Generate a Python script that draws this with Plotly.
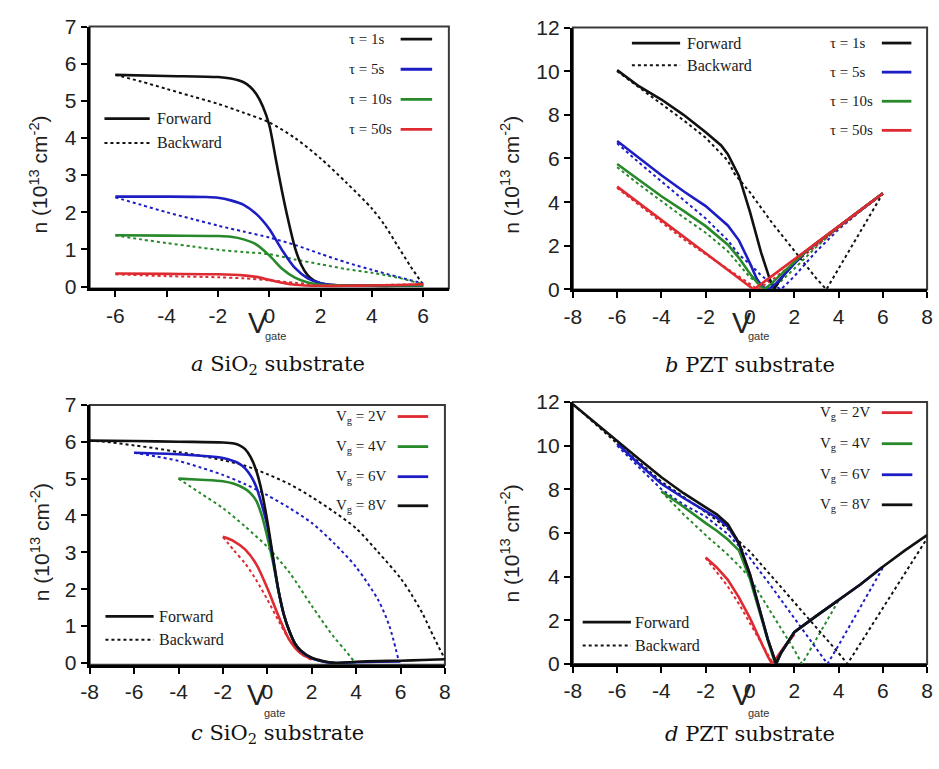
import plotly.graph_objects as go

W, H = 939, 769

# ---------------- data ----------------
# panel a (SiO2, tau)
A_X_1S_F = [-6, -4, -2, -1.5, -1, -0.75, -0.5, -0.25, 0, 0.25, 0.5, 0.75, 1.0, 1.25, 1.5, 1.75, 2.0, 2.5, 3, 4, 5, 6]
A_N_1S_F = [5.70, 5.67, 5.64, 5.6, 5.5, 5.38, 5.18, 4.85, 4.35, 3.45, 2.55, 1.75, 1.05, 0.58, 0.3, 0.16, 0.09, 0.04, 0.03, 0.02, 0.02, 0.03]
A_X_1S_B = [-6, -5, -4, -3, -2, -1, 0, 1, 2, 3, 4, 4.5, 5, 5.5, 6]
A_N_1S_B = [5.70, 5.52, 5.32, 5.12, 4.92, 4.68, 4.42, 4.0, 3.45, 2.8, 2.1, 1.65, 1.1, 0.55, 0.05]
A_X_5S_F = [-6, -4, -2.5, -2, -1.5, -1, -0.5, 0, 0.5, 1, 1.5, 2, 2.5, 3, 4, 5, 6]
A_N_5S_F = [2.42, 2.42, 2.41, 2.39, 2.32, 2.2, 1.95, 1.55, 0.98, 0.5, 0.22, 0.09, 0.04, 0.03, 0.03, 0.03, 0.03]
A_X_5S_B = [-6, -5, -4, -3, -2, -1, 0, 1, 2, 3, 4, 5, 6]
A_N_5S_B = [2.4, 2.2, 2.0, 1.82, 1.64, 1.48, 1.32, 1.12, 0.88, 0.65, 0.45, 0.26, 0.08]
A_X_10S_F = [-6, -4, -2, -1.5, -1, -0.5, 0, 0.5, 1, 1.5, 2, 3, 4, 5, 6]
A_N_10S_F = [1.38, 1.37, 1.36, 1.34, 1.27, 1.13, 0.84, 0.48, 0.24, 0.11, 0.05, 0.03, 0.03, 0.03, 0.03]
A_X_10S_B = [-6, -5, -4, -3, -2, -1, 0, 1, 2, 3, 4, 5, 6]
A_N_10S_B = [1.38, 1.27, 1.17, 1.08, 0.99, 0.93, 0.87, 0.73, 0.6, 0.47, 0.37, 0.24, 0.06]
A_X_50S_F = [-6, -4, -2, -1, -0.5, 0, 0.5, 1, 2, 3, 4, 5, 6]
A_N_50S_F = [0.35, 0.34, 0.33, 0.3, 0.26, 0.18, 0.1, 0.05, 0.02, 0.02, 0.03, 0.04, 0.06]
A_X_50S_B = [-6, -4, -2, -1, 0, 1, 2, 3, 4, 5, 6]
A_N_50S_B = [0.33, 0.28, 0.25, 0.22, 0.17, 0.1, 0.05, 0.04, 0.04, 0.05, 0.06]

# panel b (PZT, tau)
B_X_1S_F = [-6, -5, -4, -3, -2, -1.3, -1, -0.5, 0, 0.5, 0.9, 1.1, 1.3, 1.6, 2, 2.5, 3, 4, 5, 6]
B_N_1S_F = [10.05, 9.3, 8.7, 8.0, 7.2, 6.6, 6.2, 5.2, 3.55, 1.7, 0.45, 0.03, 0.35, 0.75, 1.2, 1.72, 2.12, 2.88, 3.64, 4.4]
B_X_1S_B = [-6, -5, -4, -3, -2, -1, -0.7, 0, 1, 2, 3, 3.45, 4, 5, 6]
B_N_1S_B = [10.0, 9.25, 8.5, 7.75, 6.95, 5.9, 5.3, 4.45, 3.05, 1.75, 0.5, 0.0, 0.95, 2.65, 4.4]
B_X_5S_F = [-6, -5, -4, -3, -2, -1, -0.5, 0, 0.3, 0.55, 0.85, 1.2, 1.6, 2, 2.5, 3, 4, 5, 6]
B_N_5S_F = [6.8, 6.0, 5.23, 4.5, 3.82, 2.93, 2.25, 1.2, 0.5, 0.12, 0.0, 0.3, 0.75, 1.2, 1.72, 2.12, 2.88, 3.64, 4.4]
B_X_5S_B = [-6, -5, -4, -3, -2, -1, -0.5, 0, 0.5, 1, 1.4, 2, 3, 4, 5, 6]
B_N_5S_B = [6.7, 5.8, 4.95, 4.1, 3.25, 2.25, 1.6, 1.15, 0.65, 0.25, 0.0, 0.6, 1.75, 2.75, 3.6, 4.4]
B_X_10S_F = [-6, -5, -4, -3, -2, -1, -0.5, 0, 0.3, 0.65, 1, 1.5, 2, 2.5, 3, 4, 5, 6]
B_N_10S_F = [5.75, 5.0, 4.27, 3.6, 2.9, 2.05, 1.45, 0.72, 0.35, 0.0, 0.3, 0.78, 1.25, 1.72, 2.12, 2.88, 3.64, 4.4]
B_X_10S_B = [-6, -5, -4, -3, -2, -1, 0, 0.5, 1, 2, 3, 4, 5, 6]
B_N_10S_B = [5.6, 4.8, 4.05, 3.3, 2.6, 1.75, 0.55, 0.25, 0.0, 0.95, 1.95, 2.85, 3.62, 4.4]
B_X_50S_F = [-6, -3, 0.17, 1, 2, 3, 4, 5, 6]
B_N_50S_F = [4.71, 2.4, 0.0, 0.62, 1.38, 2.12, 2.88, 3.64, 4.4]
B_X_50S_B = [-6, -3, 0, 0.35, 1, 2, 3, 4, 5, 6]
B_N_50S_B = [4.65, 2.3, 0.25, 0.0, 0.45, 1.2, 2.0, 2.8, 3.6, 4.4]

# panel c (SiO2, Vg)
C_X_8V_F = [-8, -6, -4, -2, -1.5, -1.25, -1, -0.75, -0.5, -0.25, 0, 0.25, 0.5, 0.75, 1, 1.25, 1.5, 2, 2.5, 3, 4, 5, 6, 7, 8]
C_N_8V_F = [6.03, 6.02, 6.0, 5.98, 5.95, 5.9, 5.8, 5.58, 5.22, 4.65, 3.85, 2.9, 1.98, 1.3, 0.85, 0.52, 0.34, 0.14, 0.05, 0.0, 0.03, 0.05, 0.06, 0.08, 0.1]
C_X_8V_B = [-8, -7, -6, -5, -4, -3, -2, -1, 0, 1, 2, 3, 4, 5, 6, 6.5, 7, 7.5, 8]
C_N_8V_B = [6.03, 5.98, 5.9, 5.82, 5.72, 5.62, 5.5, 5.35, 5.12, 4.85, 4.5, 4.1, 3.65, 3.0, 2.3, 1.85, 1.33, 0.7, 0.1]
C_X_6V_F = [-6, -4, -3, -2, -1.5, -1.25, -1, -0.75, -0.5, -0.25, 0, 0.25, 0.5, 0.75, 1, 1.25, 1.5, 2, 2.5, 3, 4, 5, 6]
C_N_6V_F = [5.7, 5.66, 5.62, 5.56, 5.47, 5.4, 5.28, 5.08, 4.78, 4.3, 3.72, 2.85, 1.97, 1.3, 0.85, 0.52, 0.33, 0.13, 0.04, 0.0, 0.02, 0.03, 0.04]
C_X_6V_B = [-6, -5, -4, -3, -2, -1, 0, 1, 2, 3, 4, 5, 5.5, 5.9]
C_N_6V_B = [5.7, 5.6, 5.48, 5.3, 5.1, 4.85, 4.55, 4.2, 3.8, 3.25, 2.6, 1.7, 1.0, 0.1]
C_X_4V_F = [-4, -3, -2, -1.5, -1, -0.75, -0.5, -0.25, 0, 0.25, 0.5, 0.75, 1, 1.25, 1.5, 2, 2.5, 3, 4]
C_N_4V_F = [5.0, 4.97, 4.93, 4.86, 4.72, 4.6, 4.4, 4.0, 3.42, 2.75, 1.96, 1.3, 0.85, 0.52, 0.33, 0.13, 0.04, 0.0, 0.02]
C_X_4V_B = [-4, -3, -2, -1, 0, 1, 2, 3, 3.5, 3.9]
C_N_4V_B = [5.0, 4.6, 4.2, 3.7, 3.15, 2.45, 1.55, 0.7, 0.35, 0.05]
C_X_2V_F = [-2, -1.5, -1, -0.5, 0, 0.5, 1, 1.5, 2]
C_N_2V_F = [3.42, 3.3, 3.08, 2.68, 2.03, 1.28, 0.62, 0.26, 0.1]
C_X_2V_B = [-2, -1.5, -1, -0.5, 0, 0.5, 1, 1.5, 2]
C_N_2V_B = [3.42, 3.05, 2.7, 2.25, 1.72, 1.15, 0.62, 0.26, 0.08]

# panel d (PZT, Vg)
D_X_8V_F = [-8, -7, -6, -5, -4, -3, -2, -1.5, -1, -0.5, 0, 0.5, 0.8, 1.0, 1.18, 1.4, 1.7, 2, 3, 4, 5, 6, 7, 8]
D_N_8V_F = [11.9, 11.05, 10.23, 9.38, 8.55, 7.82, 7.17, 6.85, 6.4, 5.55, 4.1, 2.2, 1.15, 0.55, 0.0, 0.5, 1.0, 1.45, 2.2, 2.92, 3.65, 4.45, 5.2, 5.9]
D_X_8V_B = [-8, -6, -4, -2, -1, -0.3, 0, 1, 2, 3, 4, 4.4, 5, 6, 7, 8]
D_N_8V_B = [11.9, 10.1, 8.35, 6.95, 6.2, 5.4, 5.15, 4.0, 2.85, 1.7, 0.5, 0.0, 0.95, 2.55, 4.15, 5.75]
D_X_6V_F = [-6, -5, -4, -3, -2, -1.5, -1, -0.5, 0, 0.5, 0.8, 1.0, 1.18, 1.4, 1.7, 2, 3, 4, 5, 6]
D_N_6V_F = [10.1, 9.15, 8.25, 7.6, 7.0, 6.7, 6.3, 5.5, 4.1, 2.2, 1.15, 0.55, 0.0, 0.5, 1.0, 1.45, 2.2, 2.92, 3.65, 4.45]
D_X_6V_B = [-6, -5, -4, -3, -2, -1, -0.3, 0, 1, 2, 3, 3.5, 4, 5, 6]
D_N_6V_B = [10.0, 9.0, 8.0, 7.3, 6.75, 5.95, 5.2, 4.85, 3.5, 2.1, 0.75, 0.0, 0.85, 2.6, 4.4]
D_X_4V_F = [-4, -3, -2, -1.5, -1, -0.5, 0, 0.5, 0.8, 1.0, 1.15, 1.4, 1.7, 2, 3, 4]
D_N_4V_F = [7.9, 7.2, 6.45, 6.1, 5.7, 5.2, 3.9, 2.1, 1.1, 0.45, 0.0, 0.5, 1.0, 1.45, 2.2, 2.92]
D_X_4V_B = [-4, -3, -2, -1, -0.5, 0, 0.5, 1, 1.5, 2, 2.35, 3, 4]
D_N_4V_B = [7.9, 6.85, 5.9, 5.0, 4.5, 3.95, 3.1, 2.3, 1.5, 0.65, 0.0, 1.15, 2.9]
D_X_2V_F = [-2, -1.5, -1, -0.5, 0, 0.5, 0.8, 1.0, 1.3, 1.6, 2.0]
D_N_2V_F = [4.88, 4.42, 3.85, 3.05, 2.1, 1.0, 0.35, 0.0, 0.45, 0.85, 1.35]
D_X_2V_B = [-2, -1.5, -1, -0.5, 0, 0.5, 1.05, 1.5, 2.0]
D_N_2V_B = [4.85, 4.2, 3.55, 2.75, 1.85, 0.95, 0.0, 0.7, 1.35]

# ticks
A_XTICKS = [-6, -4, -2, 0, 2, 4, 6]
X8_TICKS = [-8, -6, -4, -2, 0, 2, 4, 6, 8]
Y7_TICKS = [0, 1, 2, 3, 4, 5, 6, 7]
Y12_TICKS = [0, 2, 4, 6, 8, 10, 12]

TAU_LABELS = ["τ = 1s", "τ = 5s", "τ = 10s", "τ = 50s"]
VG_LABELS = ["V<sub>g</sub> = 2V", "V<sub>g</sub> = 4V", "V<sub>g</sub> = 6V", "V<sub>g</sub> = 8V"]
CAPTIONS = ["<i>a</i> SiO<sub>2</sub> substrate", "<i>b</i> PZT substrate",
            "<i>c</i> SiO<sub>2</sub> substrate", "<i>d</i> PZT substrate"]
YTITLE = "n (10<sup>13</sup> cm<sup>-2</sup>)"

BLACK = "#111111"
BLUE = "#1d1dc4"
GREEN = "#27892a"
RED = "#de2a30"
TAU_COLORS = [BLACK, BLUE, GREEN, RED]
VG_COLORS = [RED, GREEN, BLUE, BLACK]


def fx(p):
    return p / W


def fy(p):
    return 1 - p / H


fig = go.Figure()

# ---- axes geometry (pixel positions) ----
panels = [
    ("", (82, 447), (285, 15), [-7, 7], [-0.052, 7], A_XTICKS, Y7_TICKS),
    ("2", (573, 933), (286, 16), [-8, 8], [0, 12], X8_TICKS, Y12_TICKS),
    ("3", (82, 443), (673, 405), [-8, 8], [-0.053, 7], X8_TICKS, Y7_TICKS),
    ("4", (573, 933), (672, 402), [-8, 8], [0, 12], X8_TICKS, Y12_TICKS),
]

tickfont = dict(family="Liberation Sans, Arial", size=21, color="#222222")
layout_axes = {}
for name, (xl, xr), (yb, yt), xr_, yr_, xt, yt_ in panels:
    layout_axes["xaxis" + name] = dict(
        domain=[fx(xl), fx(xr)], range=xr_, anchor="y" + name,
        tickmode="array", tickvals=xt, ticktext=[str(v) for v in xt],
        ticks="outside", ticklen=6, tickwidth=2, tickcolor="black",
        showline=True, linewidth=3, linecolor="black", showgrid=False,
        zeroline=False, tickfont=tickfont, fixedrange=True)
    layout_axes["yaxis" + name] = dict(
        domain=[fy(yb), fy(yt)], range=yr_, anchor="x" + name,
        tickmode="array", tickvals=yt_, ticktext=[str(v) for v in yt_],
        ticks="outside", ticklen=6, tickwidth=2, tickcolor="black",
        showline=True, linewidth=3, linecolor="black", showgrid=False,
        zeroline=False, tickfont=tickfont, fixedrange=True)


def add(x, y, color, dashed, ax, shape="linear"):
    fig.add_trace(go.Scatter(
        x=x, y=y, mode="lines", showlegend=False, hoverinfo="skip",
        line=dict(color=color, width=2.0 if dashed else 2.6,
                  dash="dot" if dashed else "solid", shape=shape,
                  smoothing=0.8 if shape == "spline" else None),
        xaxis="x" + ax, yaxis="y" + ax))


# panel a
a_sets = [(A_X_1S_F, A_N_1S_F, A_X_1S_B, A_N_1S_B),
          (A_X_5S_F, A_N_5S_F, A_X_5S_B, A_N_5S_B),
          (A_X_10S_F, A_N_10S_F, A_X_10S_B, A_N_10S_B),
          (A_X_50S_F, A_N_50S_F, A_X_50S_B, A_N_50S_B)]
for (xf, nf, xb, nb), c in zip(a_sets, TAU_COLORS):
    add(xb, nb, c, True, "", "spline")
for (xf, nf, xb, nb), c in zip(a_sets, TAU_COLORS):
    add(xf, nf, c, False, "", "spline")

# panel b
b_sets = [(B_X_1S_F, B_N_1S_F, B_X_1S_B, B_N_1S_B),
          (B_X_5S_F, B_N_5S_F, B_X_5S_B, B_N_5S_B),
          (B_X_10S_F, B_N_10S_F, B_X_10S_B, B_N_10S_B),
          (B_X_50S_F, B_N_50S_F, B_X_50S_B, B_N_50S_B)]
for (xf, nf, xb, nb), c in zip(b_sets, TAU_COLORS):
    add(xb, nb, c, True, "2")
for (xf, nf, xb, nb), c in zip(b_sets, TAU_COLORS):
    add(xf, nf, c, False, "2")

# panel c
c_sets = [(C_X_2V_F, C_N_2V_F, C_X_2V_B, C_N_2V_B),
          (C_X_4V_F, C_N_4V_F, C_X_4V_B, C_N_4V_B),
          (C_X_6V_F, C_N_6V_F, C_X_6V_B, C_N_6V_B),
          (C_X_8V_F, C_N_8V_F, C_X_8V_B, C_N_8V_B)]
for (xf, nf, xb, nb), c in zip(c_sets, VG_COLORS):
    add(xb, nb, c, True, "3", "spline")
for (xf, nf, xb, nb), c in zip(c_sets, VG_COLORS):
    add(xf, nf, c, False, "3", "spline")

# panel d
d_sets = [(D_X_2V_F, D_N_2V_F, D_X_2V_B, D_N_2V_B),
          (D_X_4V_F, D_N_4V_F, D_X_4V_B, D_N_4V_B),
          (D_X_6V_F, D_N_6V_F, D_X_6V_B, D_N_6V_B),
          (D_X_8V_F, D_N_8V_F, D_X_8V_B, D_N_8V_B)]
for (xf, nf, xb, nb), c in zip(d_sets, VG_COLORS):
    add(xb, nb, c, True, "4")
for (xf, nf, xb, nb), c in zip(d_sets, VG_COLORS):
    add(xf, nf, c, False, "4")

shapes = []
annotations = []

# frames
for name, *_ in panels:
    shapes.append(dict(type="rect", xref="x" + name + " domain", yref="y" + name + " domain",
                       x0=0, x1=1, y0=0, y1=1, line=dict(color="#3a3a3a", width=2), layer="below"))

serif = "Liberation Serif, Times New Roman, serif"
sans = "Liberation Sans, Arial, sans-serif"


def text(x, y, s, size, family=serif, xanchor="left", angle=0, color="#1a1a1a"):
    annotations.append(dict(x=fx(x), y=fy(y), xref="paper", yref="paper", text=s,
                            showarrow=False, xanchor=xanchor, yanchor="middle",
                            textangle=angle, font=dict(family=family, size=size, color=color)))


def sample(x0, x1, y, color, dashed=False):
    shapes.append(dict(type="line", xref="paper", yref="paper",
                       x0=fx(x0), x1=fx(x1), y0=fy(y), y1=fy(y),
                       line=dict(color=color, width=2 if dashed else 2.8,
                                 dash="dot" if dashed else "solid")))


# legend entries: (text x, line x0, line x1, y list)
for lbls, cols, tx, lx0, lx1, ys in [
    (TAU_LABELS, TAU_COLORS, 343, 398, 430, [28, 59, 90, 121]),
    (TAU_LABELS, TAU_COLORS, 832, 887, 917, [32, 62, 92, 122]),
    (VG_LABELS, VG_COLORS, 330, 395, 426, [417, 448, 479, 509]),
    (VG_LABELS, VG_COLORS, 822, 887, 918, [413, 445, 477, 508]),
]:
    for l, c, y in zip(lbls, cols, ys):
        text(tx, y, l, 15)
        sample(lx0, lx1, y, c)

for lx0, lx1, tx, yf, yb in [(97, 143, 148, 110, 135), (633, 682, 687, 32, 55),
                             (98, 147, 150, 623, 647), (583, 632, 634, 629, 653)]:
    sample(lx0, lx1, yf, BLACK)
    sample(lx0, lx1, yb, BLACK, dashed=True)
    text(tx, yf, "Forward", 16)
    text(tx, yb, "Backward", 16)

# axis titles, captions
for (yx, yy), (vx, vy), (gx, gy), (cx, cy), cap in zip(
        [(30, 168), (509, 168), (31, 547), (509, 548)],
        [(253, 321), (745, 321), (252, 704), (745, 704)],
        [(271, 334), (762, 334), (270, 723), (762, 723)],
        [(273, 364), (753, 364), (273, 744), (753, 744)], CAPTIONS):
    text(yx, yy, YTITLE, 21, family=sans, xanchor="center", angle=-90, color="#222222")
    text(vx, vy, "V", 29, family=sans, xanchor="center", color="#222222")
    text(gx, gy, "gate", 11, family=sans, xanchor="center", color="#333333")
    text(cx, cy, cap, 21, family="DejaVu Serif, serif", xanchor="center", color="#111111")

fig.update_layout(
    width=W, height=H, margin=dict(l=0, r=0, t=0, b=0),
    paper_bgcolor="white", plot_bgcolor="white",
    shapes=shapes, annotations=annotations, showlegend=False,
    **layout_axes)

fig.write_html("out.html", config={"displayModeBar": False})
